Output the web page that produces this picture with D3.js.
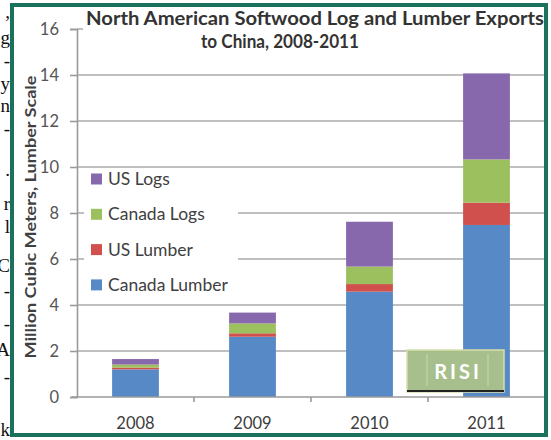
<!DOCTYPE html>
<html>
<head>
<meta charset="utf-8">
<script src="https://cdn.jsdelivr.net/npm/d3@7"></script>
<style>
  html, body { margin: 0; padding: 0; background: #fff; }
  svg { display: block; }
</style>
</head>
<body>
<div id="chart"></div>
<script>
// ---- Data ----
const years = ["2008", "2009", "2010", "2011"];
const seriesNames = ["Canada Lumber", "US Lumber", "Canada Logs", "US Logs"];
const canadaLumber = [1.2, 2.62, 4.58, 7.48];
const usLumber = [0.08, 0.15, 0.33, 0.97];
const canadaLogs = [0.13, 0.43, 0.76, 1.88];
const usLogs = [0.24, 0.47, 1.95, 3.74];
const yTicks = [0, 2, 4, 6, 8, 10, 12, 14, 16];
const legendOrder = ["US Logs", "Canada Logs", "US Lumber", "Canada Lumber"];
const titleLines = ["North American Softwood Log and Lumber Exports", "to China, 2008-2011"];
const yTitle = "Million Cubic Meters, Lumber Scale";
const logoText = "RISI";
// cropped characters of the surrounding page text (left margin)
const marginChars = [",", "g", "-", "y", "n", "-", ".", "r", "l", "C", "-", "-", "A", "-", "k"];
const marginBaselines = [18, 44, 67, 90, 112, 135, 176, 210, 233, 272, 297, 330, 356, 383, 436];

const colors = {
  "Canada Lumber": "#5689c6",
  "US Lumber": "#cf504c",
  "Canada Logs": "#9dc05f",
  "US Logs": "#8868ad"
};

const table = years.map((y, i) => ({
  year: y,
  "Canada Lumber": canadaLumber[i],
  "US Lumber": usLumber[i],
  "Canada Logs": canadaLogs[i],
  "US Logs": usLogs[i]
}));

const W = 551, H = 440;
const svg = d3.select("#chart").append("svg")
  .attr("width", W).attr("height", H)
  .style("font-family", "Lato, 'Open Sans', sans-serif");

svg.append("rect").attr("width", W).attr("height", H).attr("fill", "#fff");

// margin text fragments
svg.append("g").selectAll("text").data(marginChars).join("text")
  .attr("x", 10)
  .attr("y", (d, i) => marginBaselines[i])
  .attr("text-anchor", "end")
  .attr("font-family", "'Liberation Serif', 'DejaVu Serif', serif")
  .attr("font-size", 19)
  .attr("fill", "#111")
  .text(d => d);

// frame
svg.append("rect")
  .attr("x", 12).attr("y", 5).attr("width", 534).attr("height", 430)
  .attr("fill", "#fff").attr("stroke", "#1c715a").attr("stroke-width", 4);

svg.append("clipPath").attr("id", "inner")
  .append("rect").attr("x", 14).attr("y", 7).attr("width", 530).attr("height", 426);

const g = svg.append("g").attr("clip-path", "url(#inner)");

const x0 = 77, x1 = 545, yTop = 29, yBase = 397;
const x = d3.scaleBand().domain(years).range([x0, x1]).paddingInner(0.6).paddingOuter(0.3);
const y = d3.scaleLinear().domain([0, 16]).range([yBase, yTop]);
const step = x.step();

// gridlines
g.append("g").selectAll("line").data(yTicks.filter(t => t > 0)).join("line")
  .attr("x1", x0).attr("x2", x1)
  .attr("y1", d => y(d)).attr("y2", d => y(d))
  .attr("stroke", "#ababab").attr("stroke-width", 1.6);

// y axis
const yAxis = d3.axisLeft(y).tickValues(yTicks).tickSize(7).tickPadding(11);
const ya = g.append("g").attr("transform", `translate(${x0},0)`).call(yAxis);
ya.select(".domain").attr("stroke", "#9a9a9a").attr("stroke-width", 1.6);
ya.selectAll(".tick line").attr("stroke", "#9a9a9a").attr("stroke-width", 1.6);
ya.selectAll(".tick text").attr("font-size", 16.5).attr("fill", "#555")
  .attr("font-family", "Lato, sans-serif");

// stacked bars
const stack = d3.stack().keys(seriesNames);
const layers = stack(table);
g.append("g").selectAll("g").data(layers).join("g")
  .attr("fill", d => colors[d.key])
  .selectAll("rect").data(d => d).join("rect")
  .attr("x", d => x(d.data.year))
  .attr("width", x.bandwidth())
  .attr("y", d => y(d[1]))
  .attr("height", d => y(d[0]) - y(d[1]));

// x axis
const xTickPos = years.slice(1).map(yv => x(yv) - x.paddingInner() * step / 2);
g.append("line").attr("x1", 72).attr("x2", x1).attr("y1", yBase).attr("y2", yBase)
  .attr("stroke", "#9a9a9a").attr("stroke-width", 1.6);
g.append("g").selectAll("line").data(xTickPos).join("line")
  .attr("x1", d => d).attr("x2", d => d)
  .attr("y1", yBase).attr("y2", yBase + 5)
  .attr("stroke", "#9a9a9a").attr("stroke-width", 1.6);
g.append("g").selectAll("text").data(years).join("text")
  .attr("x", d => x(d) + x.bandwidth() / 2)
  .attr("y", 429)
  .attr("text-anchor", "middle")
  .attr("font-size", 16.5)
  .attr("fill", "#3c3c3c")
  .text(d => d);

// title (with white background covering top gridline)
g.append("rect").attr("x", 83).attr("y", 9).attr("width", 470).attr("height", 46).attr("fill", "#fff");
g.append("text").attr("x", 86).attr("y", 25)
  .attr("font-size", 18.5).attr("font-weight", "bold").attr("fill", "#333")
  .attr("textLength", 458).attr("lengthAdjust", "spacingAndGlyphs")
  .text(titleLines[0]);
g.append("text").attr("x", 280).attr("y", 48)
  .attr("text-anchor", "middle")
  .attr("font-size", 18.5).attr("font-weight", "bold").attr("fill", "#333")
  .attr("textLength", 158).attr("lengthAdjust", "spacingAndGlyphs")
  .text(titleLines[1]);

// y axis title
g.append("text")
  .attr("transform", "translate(36,217) rotate(-90)")
  .attr("text-anchor", "middle")
  .attr("font-size", 15).attr("font-weight", "bold").attr("fill", "#404040")
  .attr("textLength", 283).attr("lengthAdjust", "spacingAndGlyphs")
  .text(yTitle);

// legend
const lg = g.append("g");
lg.append("rect").attr("x", 84).attr("y", 170).attr("width", 154).attr("height", 130).attr("fill", "#fff");
const li = lg.selectAll("g").data(legendOrder).join("g")
  .attr("transform", (d, i) => `translate(91,${179 + i * 35.3})`);
li.append("rect").attr("x", 0).attr("y", -5.5).attr("width", 11).attr("height", 11)
  .attr("fill", d => colors[d]);
li.append("text").attr("x", 17).attr("y", 6)
  .attr("font-size", 17.5).attr("fill", "#404040")
  .text(d => d);

// RISI logo overlay
const logo = g.append("g").attr("transform", "translate(407,350)");
logo.append("rect").attr("width", 97).attr("height", 42)
  .attr("fill", "#a7bf8c").attr("stroke", "#d6e0a9").attr("stroke-width", 1.5);
logo.append("line").attr("x1", 0).attr("x2", 97).attr("y1", 41).attr("y2", 41)
  .attr("stroke", "#222").attr("stroke-width", 2);
logo.selectAll("line.v").data([20, 81]).join("line").attr("class", "v")
  .attr("x1", d => d).attr("x2", d => d).attr("y1", 4).attr("y2", 36)
  .attr("stroke", "#bcd0a4").attr("stroke-width", 1.5);
logo.append("text").attr("x", 51).attr("y", 29)
  .attr("text-anchor", "middle")
  .attr("font-size", 20).attr("font-weight", "bold").attr("fill", "#fff")
  .attr("letter-spacing", 3)
  .text(logoText);
</script>
</body>
</html>
